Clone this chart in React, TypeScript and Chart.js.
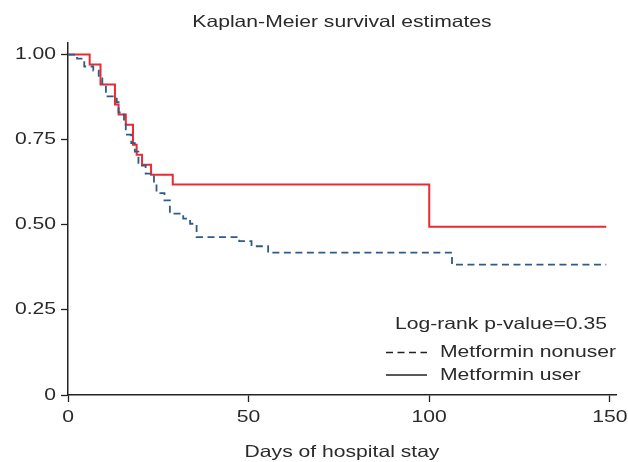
import React, { useEffect, useRef } from "react";
import { Chart, registerables } from "chart.js";

Chart.register(...registerables);

const titleText = "Kaplan-Meier survival estimates";
const xAxisTitle = "Days of hospital stay";
const logRankText = "Log-rank p-value=0.35";
const seriesNames = ["Metformin nonuser", "Metformin user"];

const xTicks = [0, 50, 100, 150];
const yTicks = [0, 0.25, 0.5, 0.75, 1];

const nonuserDays = [0, 2.5, 4.5, 7, 8.5, 9.5, 10.5, 13.5, 14, 15.5, 16, 17.5, 18.5, 19.5, 21.5, 23.8, 24.5, 26.7, 28.2, 31.9, 33.8, 35.6, 47.4, 50.8, 55.4, 106.3, 149];
const nonuserSurv = [1, 0.988, 0.965, 0.953, 0.93, 0.906, 0.877, 0.86, 0.83, 0.8, 0.765, 0.74, 0.715, 0.674, 0.65, 0.62, 0.593, 0.572, 0.533, 0.518, 0.503, 0.464, 0.452, 0.437, 0.418, 0.383, 0.383];

const userDays = [0, 6, 9, 13, 14, 16, 18, 19, 20.5, 23, 29, 100, 149];
const userSurv = [1, 0.971, 0.912, 0.853, 0.824, 0.794, 0.735, 0.706, 0.676, 0.647, 0.618, 0.494, 0.494];

const FONT = "'Liberation Sans', Arial, Helvetica, sans-serif";
const FONT_SIZE = 16.5;
const STRETCH = 1.28;
const TEXT = "#2a2a2a";
const RED = "#ec2a30";
const BLUE = "#2f5b8a";

function drawText(ctx: any, text: string, x: number, y: number, align: string) {
  ctx.save();
  ctx.translate(x, y);
  ctx.scale(STRETCH, 1);
  ctx.textAlign = align;
  ctx.fillText(text, 0, 0);
  ctx.restore();
}

const overlay = {
  id: "kmOverlay",
  afterDraw(chart: any) {
    const { ctx, chartArea, scales } = chart;
    ctx.save();
    ctx.fillStyle = TEXT;
    ctx.font = `${FONT_SIZE}px ${FONT}`;
    ctx.textBaseline = "middle";

    drawText(ctx, titleText, (chartArea.left + chartArea.right) / 2, 22, "center");

    yTicks.forEach((v) => {
      drawText(ctx, v === 0 ? "0" : v.toFixed(2), chartArea.left - 12, scales.y.getPixelForValue(v), "right");
    });
    xTicks.forEach((v) => {
      drawText(ctx, String(v), scales.x.getPixelForValue(v), chartArea.bottom + 22, "center");
    });
    drawText(ctx, xAxisTitle, (chartArea.left + chartArea.right) / 2, chartArea.bottom + 57, "center");

    const right = chartArea.right;
    const bottom = chartArea.bottom;
    drawText(ctx, logRankText, right - 221, bottom - 71, "left");

    const lx0 = right - 230;
    const lx1 = right - 189;
    ctx.strokeStyle = "#222";
    ctx.lineWidth = 1.3;
    ctx.setLineDash([7, 4.5]);
    ctx.beginPath();
    ctx.moveTo(lx0, bottom - 42.5);
    ctx.lineTo(lx1, bottom - 42.5);
    ctx.stroke();
    ctx.setLineDash([]);
    ctx.beginPath();
    ctx.moveTo(lx0, bottom - 20);
    ctx.lineTo(lx1, bottom - 20);
    ctx.stroke();
    drawText(ctx, seriesNames[0], right - 176, bottom - 43, "left");
    drawText(ctx, seriesNames[1], right - 176, bottom - 20, "left");
    ctx.restore();
  },
};

export default function App() {
  const ref = useRef<HTMLCanvasElement | null>(null);
  useEffect(() => {
    if (!ref.current) return;
    const chart = new Chart(ref.current, {
      type: "line",
      data: {
        datasets: [
          {
            label: seriesNames[0],
            data: nonuserDays.map((d, i) => ({ x: d, y: nonuserSurv[i] })),
            borderColor: BLUE,
            borderWidth: 1.8,
            borderDash: [7, 4.5],
            stepped: true,
            pointRadius: 0,
            fill: false,
          },
          {
            label: seriesNames[1],
            data: userDays.map((d, i) => ({ x: d, y: userSurv[i] })),
            borderColor: RED,
            borderWidth: 2,
            stepped: true,
            pointRadius: 0,
            fill: false,
          },
        ],
      },
      plugins: [overlay],
      options: {
        animation: false,
        responsive: true,
        maintainAspectRatio: false,
        layout: { padding: { top: 43, right: 12, left: 0, bottom: 0 } },
        plugins: { legend: { display: false }, tooltip: { enabled: false }, title: { display: false } },
        scales: {
          x: {
            type: "linear",
            min: 0,
            max: 151.7,
            afterFit: (s: any) => { s.height = 67; },
            afterBuildTicks: (s: any) => { s.ticks = xTicks.map((v) => ({ value: v })); },
            grid: { drawOnChartArea: false, drawTicks: true, tickLength: 7, tickColor: "#222", tickWidth: 1.3 },
            border: { display: true, color: "#222", width: 1.5 },
            ticks: { display: false },
          },
          y: {
            type: "linear",
            min: 0,
            max: 1.034,
            afterFit: (s: any) => { s.width = 68; },
            afterBuildTicks: (s: any) => { s.ticks = yTicks.map((v) => ({ value: v })); },
            grid: { drawOnChartArea: false, drawTicks: true, tickLength: 7, tickColor: "#222", tickWidth: 1.3 },
            border: { display: true, color: "#222", width: 1.5 },
            ticks: { display: false },
          },
        },
      },
    });
    return () => chart.destroy();
  }, []);
  return (
    <div style={{ position: "fixed", left: 0, top: 0, width: 628, height: 462, background: "#fff" }}>
      <canvas ref={ref} />
    </div>
  );
}
